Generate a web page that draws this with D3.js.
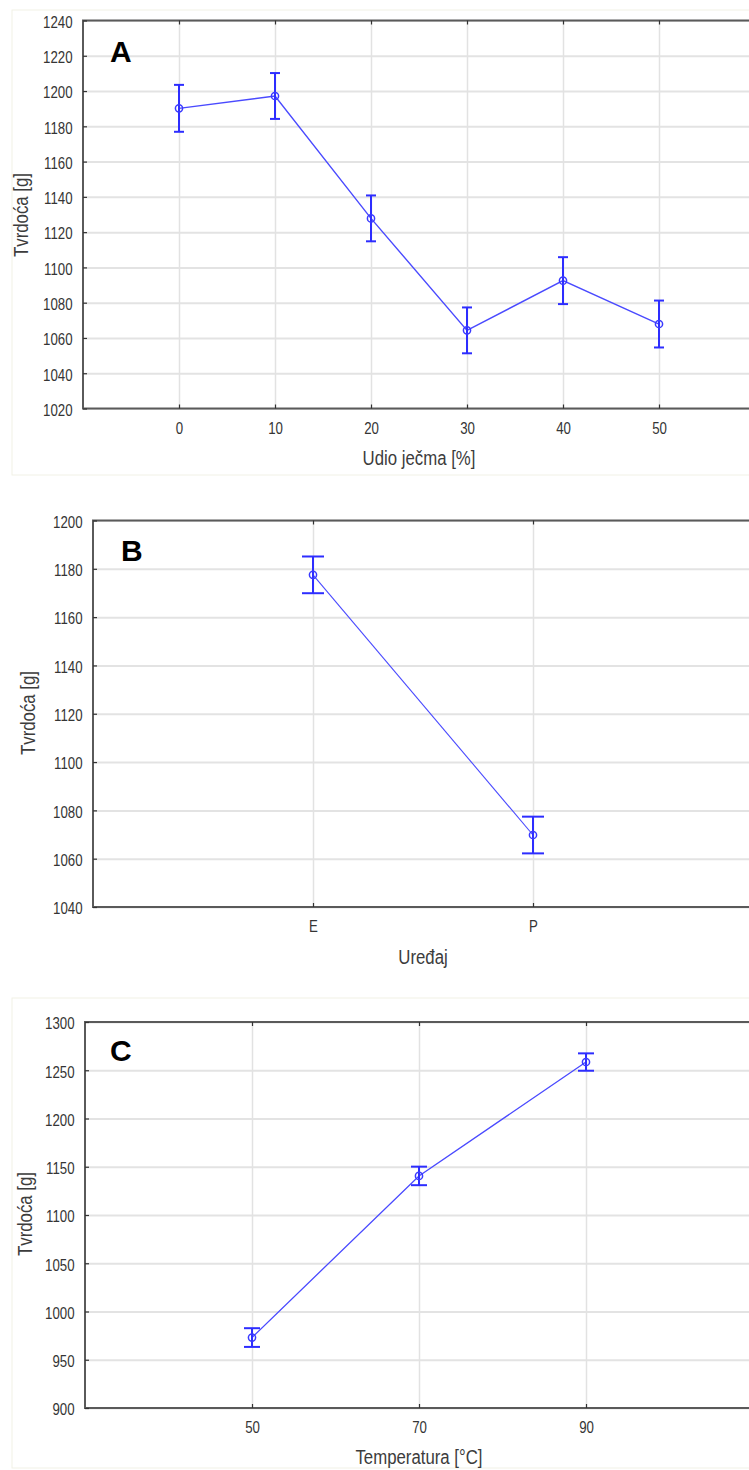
<!DOCTYPE html>
<html><head><meta charset="utf-8">
<script src="https://cdn.jsdelivr.net/npm/d3@7"></script>
<style>
html,body{margin:0;padding:0;background:#fff;}
svg{display:block;}
</style></head>
<body>
<script>
// ---------- DATA ----------
const aCategories = [0, 10, 20, 30, 40, 50];
const aMeans = [1190.2, 1197.2, 1127.8, 1064.3, 1092.5, 1067.9];
const aErrors = [13.3, 13.0, 13.0, 13.0, 13.3, 13.3];
const aYTicks = [1020, 1040, 1060, 1080, 1100, 1120, 1140, 1160, 1180, 1200, 1220, 1240];

const bCategories = ["E", "P"];
const bMeans = [1177.5, 1069.8];
const bErrors = [7.6, 7.6];
const bYTicks = [1040, 1060, 1080, 1100, 1120, 1140, 1160, 1180, 1200];

const cCategories = [50, 70, 90];
const cMeans = [973, 1140.5, 1258.5];
const cErrors = [9.7, 9.6, 9.0];
const cYTicks = [900, 950, 1000, 1050, 1100, 1150, 1200, 1250, 1300];

const yTitle = "Tvrdoća [g]";
const xTitles = ["Udio ječma [%]", "Uređaj", "Temperatura [°C]"];
const panelLetters = ["A", "B", "C"];

// ---------- DRAW ----------
const W = 749, H = 1470;
const svg = d3.select("body").append("svg").attr("width", W).attr("height", H);
svg.append("rect").attr("width", W).attr("height", H).attr("fill", "#fff");

const FONT = "'Liberation Sans',Arial,sans-serif";
const SX = 0.8;   // horizontal condensation for titles
const SXT = 0.78; // horizontal condensation for tick labels
const BLUE_LINE = "#4a4aff", BLUE_ERR = "#2d2dff";

function panel(cfg) {
  const g = svg.append("g");
  if (cfg.outer) {
    g.append("rect").attr("x", cfg.outer[0]).attr("y", cfg.outer[1])
      .attr("width", cfg.outer[2]).attr("height", cfg.outer[3])
      .attr("fill", "none").attr("stroke", "#f1f1e6").attr("stroke-width", 1);
  }
  const x = cfg.x, y = cfg.y;
  const [x0, x1] = x.range();
  const [yb, yt] = y.range();

  // horizontal grid
  g.append("g").attr("transform", `translate(${x0},0)`)
    .call(d3.axisLeft(y).tickValues(cfg.yTicks).tickSize(-(x1 - x0)).tickFormat(""))
    .call(s => s.select(".domain").remove())
    .call(s => s.selectAll("line").attr("stroke", "#e3e3e3").attr("stroke-width", 2));
  // vertical grid
  g.append("g").attr("transform", `translate(0,${yb})`)
    .call(d3.axisBottom(x).tickValues(cfg.xTicks).tickSize(-(yb - yt)).tickFormat(""))
    .call(s => s.select(".domain").remove())
    .call(s => s.selectAll("line").attr("stroke", "#e2e2e2").attr("stroke-width", 1.5));

  // frame
  g.append("rect").attr("x", x0).attr("y", yt).attr("width", x1 - x0).attr("height", yb - yt)
    .attr("fill", "none").attr("stroke", "#5a5a5a").attr("stroke-width", 2);

  // axes with inward ticks
  const yAx = g.append("g").attr("transform", `translate(${x0},0)`)
    .call(d3.axisLeft(y).tickValues(cfg.yTicks).tickSize(-4).tickPadding(10.5).tickFormat(d3.format("d")));
  yAx.select(".domain").remove();
  yAx.selectAll("line").attr("stroke", "#333").attr("stroke-width", 1.2);
  yAx.selectAll("text").attr("font-family", FONT).attr("font-size", 17)
    .attr("fill", "#353535").attr("dy", "0.4em")
    .attr("x", -10.5 / SXT).attr("transform", `scale(${SXT},1)`);

  const xFmt = typeof cfg.xTicks[0] === "number" ? d3.format("d") : (d => d);
  const xAx = g.append("g").attr("transform", `translate(0,${yb})`)
    .call(d3.axisBottom(x).tickValues(cfg.xTicks).tickSize(-4).tickPadding(13).tickFormat(xFmt));
  xAx.select(".domain").remove();
  xAx.selectAll("line").attr("stroke", "#333").attr("stroke-width", 1.2);
  xAx.selectAll("text").attr("font-family", FONT).attr("font-size", 17).attr("fill", "#353535")
    .attr("transform", `scale(${SXT},1)`);

  const xTop = g.append("g").attr("transform", `translate(0,${yt})`)
    .call(d3.axisTop(x).tickValues(cfg.xTicks).tickSize(-4).tickFormat(""));
  xTop.select(".domain").remove();
  xTop.selectAll("line").attr("stroke", "#333").attr("stroke-width", 1.2);

  // data
  const pts = cfg.cats.map((c, i) => ({c, m: cfg.means[i], e: cfg.errs[i]}));
  g.append("path").datum(pts)
    .attr("d", d3.line().x(d => x(d.c)).y(d => y(d.m)))
    .attr("fill", "none").attr("stroke", BLUE_LINE).attr("stroke-width", cfg.lw);

  const eb = g.selectAll(".eb").data(pts).enter().append("g")
    .attr("stroke", BLUE_ERR).attr("stroke-width", 2).attr("fill", "none");
  eb.append("line").attr("x1", d => x(d.c)).attr("x2", d => x(d.c))
    .attr("y1", d => y(d.m - d.e)).attr("y2", d => y(d.m + d.e));
  eb.append("line").attr("x1", d => x(d.c) - cfg.cap).attr("x2", d => x(d.c) + cfg.cap)
    .attr("y1", d => y(d.m + d.e)).attr("y2", d => y(d.m + d.e));
  eb.append("line").attr("x1", d => x(d.c) - cfg.cap).attr("x2", d => x(d.c) + cfg.cap)
    .attr("y1", d => y(d.m - d.e)).attr("y2", d => y(d.m - d.e));
  eb.append("circle").attr("cx", d => x(d.c)).attr("cy", d => y(d.m)).attr("r", 3.6)
    .attr("stroke", "#3a3aff").attr("stroke-width", 1.5);

  // titles
  g.append("text").attr("transform", `translate(${cfg.xTitlePos[0]},${cfg.xTitlePos[1]}) scale(${SX},1)`)
    .attr("text-anchor", "middle").attr("font-family", FONT).attr("font-size", 21)
    .attr("fill", "#3c3c3c").text(cfg.xTitle);
  g.append("text").attr("transform", `translate(${cfg.yTitlePos[0]},${cfg.yTitlePos[1]}) rotate(-90) scale(${SX},1)`)
    .attr("text-anchor", "middle").attr("font-family", FONT).attr("font-size", 21)
    .attr("fill", "#3c3c3c").text(yTitle);
  g.append("text").attr("x", cfg.letterPos[0]).attr("y", cfg.letterPos[1])
    .attr("font-family", FONT).attr("font-weight", "bold")
    .attr("font-size", 30).attr("fill", "#000").text(cfg.letter);
}

// Panel A
panel({
  x: d3.scaleLinear().domain([-10, 60]).range([83, 755]),
  y: d3.scaleLinear().domain([1020, 1240]).range([408.5, 20.5]),
  xTicks: aCategories, yTicks: aYTicks,
  cats: aCategories, means: aMeans, errs: aErrors,
  cap: 5, lw: 1.4,
  xTitle: xTitles[0], xTitlePos: [419, 465], yTitlePos: [28, 215],
  letter: panelLetters[0], letterPos: [110, 62],
  outer: [12, 10, 760, 465]
});

// Panel B
panel({
  x: d3.scalePoint().domain(bCategories).range([93, 753]).padding(1),
  y: d3.scaleLinear().domain([1040, 1200]).range([907, 520.5]),
  xTicks: bCategories, yTicks: bYTicks,
  cats: bCategories, means: bMeans, errs: bErrors,
  cap: 11, lw: 1.1,
  xTitle: xTitles[1], xTitlePos: [423, 964], yTitlePos: [35, 713],
  letter: panelLetters[1], letterPos: [121, 561],
  outer: null
});

// Panel C
panel({
  x: d3.scaleLinear().domain([30, 110]).range([85, 753]),
  y: d3.scaleLinear().domain([900, 1300]).range([1408, 1022]),
  xTicks: cCategories, yTicks: cYTicks,
  cats: cCategories, means: cMeans, errs: cErrors,
  cap: 8, lw: 1.3,
  xTitle: xTitles[2], xTitlePos: [419, 1464], yTitlePos: [32, 1214],
  letter: panelLetters[2], letterPos: [110, 1061],
  outer: [12, 998, 760, 470]
});
</script>
</body></html>
